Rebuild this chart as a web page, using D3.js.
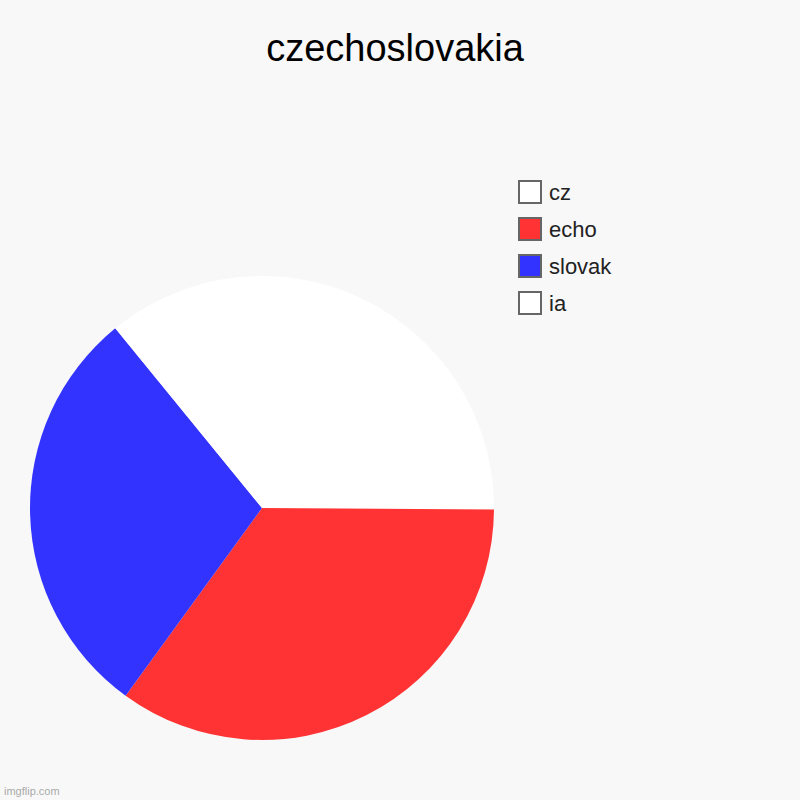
<!DOCTYPE html>
<html>
<head>
<meta charset="utf-8">
<script src="https://cdn.jsdelivr.net/npm/d3@7"></script>
<style>
  html, body { margin: 0; padding: 0; background: #f8f8f8; }
  svg { display: block; }
</style>
</head>
<body>
<svg id="chart" width="800" height="800"></svg>
<script>
const title = "czechoslovakia";
const categories = ["cz", "echo", "slovak", "ia"];
const values = [25.1, 34.9, 29.1, 10.9];
const colors = ["#ffffff", "#ff3333", "#3333ff", "#ffffff"];

const svg = d3.select("#chart");
const W = 800, H = 800;

svg.append("rect").attr("width", W).attr("height", H).attr("fill", "#f8f8f8");

svg.append("text")
  .attr("x", 395).attr("y", 61)
  .attr("text-anchor", "middle")
  .attr("font-family", "Arial, 'Liberation Sans', sans-serif")
  .attr("font-size", 38)
  .attr("fill", "#000")
  .text(title);

const data = categories.map((c, i) => ({ name: c, value: values[i], color: colors[i] }));

const pie = d3.pie().value(d => d.value).sort(null);
const radius = 232;
const arc = d3.arc().innerRadius(0).outerRadius(radius);

const g = svg.append("g").attr("transform", "translate(262,508)");
g.selectAll("path")
  .data(pie(data))
  .join("path")
  .attr("d", arc)
  .attr("fill", d => d.data.color);

const color = d3.scaleOrdinal().domain(categories).range(colors);
const ly = d3.scaleBand().domain(categories).range([180, 328]);

const legend = svg.append("g");
const items = legend.selectAll("g")
  .data(categories)
  .join("g")
  .attr("transform", d => `translate(518,${ly(d)})`);

items.append("rect")
  .attr("x", 1).attr("y", 1)
  .attr("width", 22).attr("height", 22)
  .attr("fill", d => color(d))
  .attr("stroke", "#666666")
  .attr("stroke-width", 2);

items.append("text")
  .attr("x", 31).attr("y", 19.5)
  .attr("font-family", "Arial, 'Liberation Sans', sans-serif")
  .attr("font-size", 22)
  .attr("fill", "#222")
  .text(d => d);

svg.append("text")
  .attr("x", 4).attr("y", 795)
  .attr("font-family", "Arial, 'Liberation Sans', sans-serif")
  .attr("font-size", 11)
  .attr("fill", "#aaaaaa")
  .text("imgflip.com");
</script>
</body>
</html>
